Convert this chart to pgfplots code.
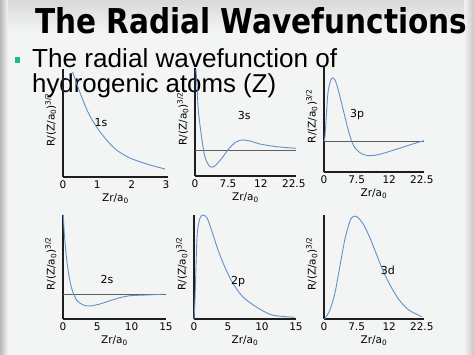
\documentclass[border=0pt]{standalone}
\usepackage{fontspec}
\setmainfont{DejaVu Sans}
\newfontfamily\bodyfont{Liberation Sans}
\usepackage{pgfplots}
\pgfplotsset{compat=1.18}
\definecolor{curvec}{RGB}{96,146,200}
\definecolor{axisc}{RGB}{30,30,30}
\definecolor{zeroc}{RGB}{95,95,95}
\definecolor{bg}{RGB}{243,245,245}
\definecolor{bullet}{RGB}{26,188,150}
\tikzset{plab/.style={font=\fontsize{11}{12}\selectfont}}
\pgfplotsset{
  panel/.style={
    scale only axis, axis lines=left, enlargelimits=false, clip=false,
    axis line style={-, line width=1.2pt, draw=axisc},
    xmin=0, ymin=0, ytick=\empty, xtick pos=bottom,
    major tick length=0pt,
    tick label style={font=\fontsize{10.5}{12}\selectfont},
    xlabel={Zr/a\textsubscript{0}},
    xlabel style={font=\fontsize{10.5}{12}\selectfont, yshift=1pt},
    ylabel={R/(Z/a\textsubscript{0})\textsuperscript{3/2}},
    ylabel style={font=\fontsize{10.5}{12}\selectfont, at={(axis description cs:-0.03,0.53)}, anchor=south},
    anchor=south west,
  },
  curve/.style={line width=0.9pt, color=curvec, smooth},
  zero/.style={line width=0.7pt, color=zeroc},
}
\begin{document}
\begin{tikzpicture}[x=1pt,y=1pt]
\fill[bg] (0,0) rectangle (474,355);
\fill[left color=gray!55, right color=bg] (0,0) rectangle (8,355);
\fill[left color=bg, right color=gray!45] (464,0) rectangle (474,355);
\fill[top color=gray!30, bottom color=bg] (8,322) rectangle (464,355);
\useasboundingbox (0,0) rectangle (474,355);

% title and text
\node[anchor=base west, inner sep=0pt] at (35,321) {\resizebox{432pt}{26pt}{\bfseries The Radial Wavefunctions}};
\fill[bullet] (14.5,292) rectangle (20,297.5);
\node[anchor=base west, inner sep=0pt] at (32,287.7) {\resizebox{305pt}{!}{\bodyfont The radial wavefunction of}};
\node[anchor=base west, inner sep=0pt] at (32,262.5) {\resizebox{244pt}{!}{\bodyfont hydrogenic atoms (Z)}};

% 1s
\begin{axis}[panel, at={(63pt,178pt)}, width=105pt, height=108pt, xmax=3.06, ymax=108,
  xtick={0,1,2,3}, xticklabels={0,1,2,3}]
\addplot[curve] coordinates {(0.28,105) (0.50,84) (0.74,64) (0.98,50) (1.27,37) (1.56,27) (1.95,19) (2.44,13) (2.97,8)};
\node[plab] at (axis cs:1.11,54) {1s};
\end{axis}

% 3s
\begin{axis}[panel, at={(195pt,179pt)}, width=101pt, height=108pt, xmax=23, ymax=108,
  xtick={0,7.5,15,22.5}, xticklabels={0,7.5,12,22.5}]
\addplot[zero] coordinates {(0,26) (23,26)};
\addplot[curve] coordinates {(0.2,106) (0.39,96) (0.75,66) (1.5,39) (2.27,19) (3.4,9.3) (4.5,10) (6.1,17.7) (7.6,26.7) (9.1,33.3) (10.6,36) (12.5,35) (14.8,32) (18.6,29.3) (23,27.7)};
\node[plab] at (axis cs:11.2,60) {3s};
\end{axis}

% 3p
\begin{axis}[panel, at={(324pt,183pt)}, width=100pt, height=105pt, xmax=23, ymax=105,
  xtick={0,7.5,15,22.5}, xticklabels={0,7.5,12,22.5}]
\addplot[zero] coordinates {(0,31) (23,31)};
\addplot[curve] coordinates {(0,31) (0.23,36) (0.62,62) (0.99,82) (1.77,93.7) (2.52,92) (3.28,82) (4.43,62) (5.57,42) (6.72,27) (8.26,19.3) (10.2,16.3) (12.8,17.7) (16.6,22.7) (20.4,28) (23,31.3)};
\node[plab] at (axis cs:7.6,57) {3p};
\end{axis}

% 2s
\begin{axis}[panel, at={(63pt,36pt)}, width=103pt, height=104pt, xmax=15, ymax=104,
  xtick={0,5,10,15}, xticklabels={0,5,10,15}]
\addplot[zero] coordinates {(0,25) (15,25)};
\addplot[curve] coordinates {(0.04,104) (0.19,85.7) (0.44,65.7) (0.77,47.3) (1.26,30.7) (1.97,19) (2.95,14) (3.93,13) (5.39,15) (6.84,18.3) (8.3,21.3) (9.75,23.3) (12.2,24) (14.6,24.7)};
\node[plab] at (axis cs:6.4,39) {2s};
\end{axis}

% 2p
\begin{axis}[panel, at={(194pt,36pt)}, width=102pt, height=104pt, xmax=15, ymax=104,
  xtick={0,5,10,15}, xticklabels={0,5,10,15}]
\addplot[curve] coordinates {(0,0) (0.15,20) (0.29,52) (0.48,85.7) (0.87,100.7) (1.35,104) (1.94,100.7) (2.57,89) (3.54,69) (4.51,52.3) (5.72,35.7) (7.17,22.3) (9.1,12.3) (11.5,4) (14.8,1.7)};
\node[plab] at (axis cs:6.5,37) {2p};
\end{axis}

% 3d
\begin{axis}[panel, at={(324pt,36pt)}, width=100pt, height=104pt, xmax=23, ymax=104,
  xtick={0,7.5,15,22.5}, xticklabels={0,7.5,12,22.5}]
\addplot[curve] coordinates {(0,0) (0.23,0.7) (1.36,9) (2.5,25.7) (3.64,52.3) (4.77,79) (5.91,97.3) (6.66,102.3) (7.57,102.3) (8.93,95.7) (10.45,82.3) (11.98,65.7) (13.5,49) (15.4,32.3) (17.3,19) (19.5,9) (22.5,2.3)};
\node[plab] at (axis cs:14.7,49) {3d};
\end{axis}
\end{tikzpicture}
\end{document}
